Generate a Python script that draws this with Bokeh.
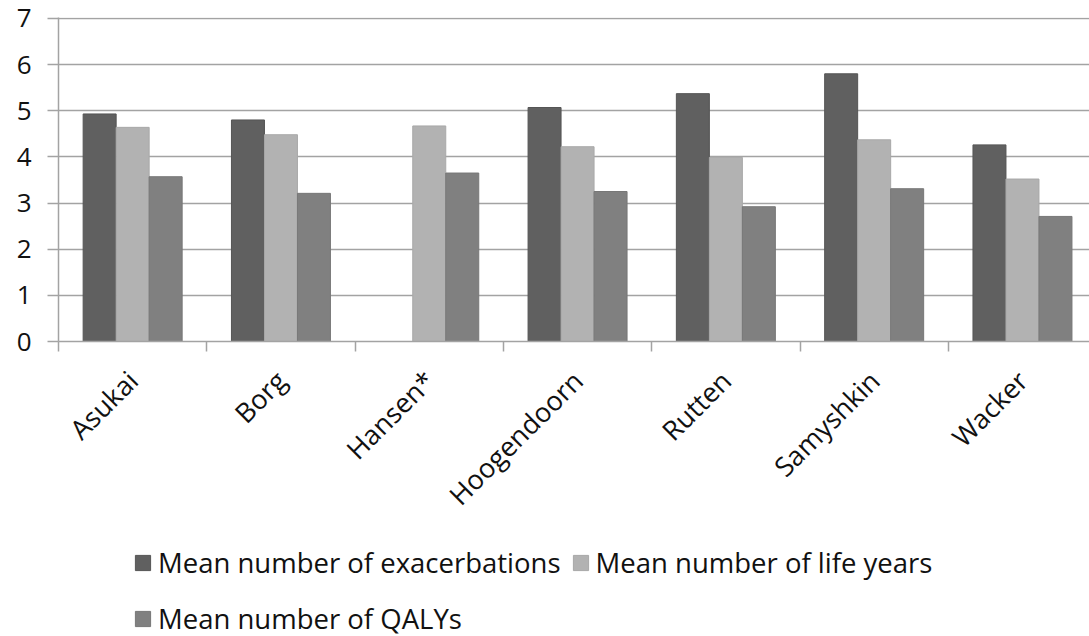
from bokeh.plotting import figure
from bokeh.layouts import column
from bokeh.models import (ColumnDataSource, Range1d, FixedTicker, Legend,
                          LegendItem)
from bokeh.transform import dodge
from bokeh.embed import file_html
from bokeh.resources import INLINE

# Study results per published model
studies = ["Asukai", "Borg", "Hansen*", "Hoogendoorn", "Rutten", "Samyshkin", "Wacker"]
exacerbations = [4.93, 4.80, float("nan"), 5.07, 5.37, 5.80, 4.26]
life_years = [4.64, 4.48, 4.67, 4.22, 3.99, 4.37, 3.52]
qalys = [3.57, 3.21, 3.65, 3.25, 2.92, 3.31, 2.71]
y_ticks = [0, 1, 2, 3, 4, 5, 6, 7]

series_names = ["Mean number of exacerbations", "Mean number of life years",
                "Mean number of QALYs"]
series_colors = ["#606060", "#b2b2b2", "#808080"]
series_lines = ["#555555", "#a8a8a8", "#777777"]

FONT = "Open Sans"
TEXT = "#111111"
GRID = "#a3a3a3"
centers = [i + 0.5 for i in range(len(studies))]
bounds = list(range(len(studies)))
bar_w = 0.2225

# ---- main chart ----
p = figure(frame_width=1031, frame_height=324,
           min_border_left=58, min_border_right=0, min_border_top=17,
           min_border_bottom=180,
           x_range=Range1d(0, 6.952), y_range=Range1d(0, 7.02),
           output_backend="svg", toolbar_location=None)

src = ColumnDataSource(dict(x=centers, exa=exacerbations, life=life_years, qaly=qalys))
for k, (col, fc, lc) in enumerate(zip(["exa", "life", "qaly"], series_colors, series_lines)):
    p.vbar(x=dodge("x", (k - 1) * bar_w), top=col, width=bar_w, source=src,
           fill_color=fc, line_color=lc, line_width=1)

p.outline_line_color = None
p.background_fill_color = "white"
p.border_fill_color = "white"

p.xgrid.visible = False
p.ygrid.ticker = FixedTicker(ticks=y_ticks)
p.ygrid.grid_line_color = GRID
p.ygrid.grid_line_width = 1.5

ya = p.yaxis[0]
ya.ticker = FixedTicker(ticks=y_ticks)
ya.axis_line_color = GRID
ya.axis_line_width = 1.5
ya.major_tick_line_color = GRID
ya.major_tick_line_width = 1.5
ya.major_tick_out = 11
ya.major_tick_in = 0
ya.minor_tick_line_color = None
ya.major_label_standoff = 16
ya.major_label_text_font = FONT
ya.major_label_text_font_size = "26px"
ya.major_label_text_color = TEXT

# labels at category centres, tick marks at category boundaries
xa = p.xaxis[0]
xa.ticker = FixedTicker(ticks=centers, minor_ticks=bounds)
xa.major_label_overrides = {c: s for c, s in zip(centers, studies)}
xa.major_label_orientation = 0.785398
xa.major_tick_line_color = None
xa.major_tick_out = 0
xa.major_tick_in = 0
xa.minor_tick_line_color = GRID
xa.minor_tick_line_width = 1.5
xa.minor_tick_out = 10
xa.minor_tick_in = 0
xa.axis_line_color = GRID
xa.axis_line_width = 1.5
xa.major_label_standoff = 24
xa.major_label_text_font = FONT
xa.major_label_text_font_size = "27px"
xa.major_label_text_color = TEXT

# ---- legend strip ----
lg = figure(width=1089, height=115, min_border=0,
            x_axis_location=None, y_axis_location=None,
            x_range=Range1d(0, 1), y_range=Range1d(0, 1),
            output_backend="svg", toolbar_location=None)
lg.outline_line_color = None
lg.grid.visible = False
key_src = ColumnDataSource(dict(x=[float("nan")], top=[float("nan")]))
swatches = [lg.vbar(x="x", top="top", width=0.1, source=key_src,
                    fill_color=fc, line_color=lc)
            for fc, lc in zip(series_colors, series_lines)]

def make_legend(idx, loc):
    return Legend(items=[LegendItem(label=series_names[i], renderers=[swatches[i]]) for i in idx],
                  location=loc, orientation="horizontal",
                  padding=0, margin=0, spacing=10, label_standoff=6,
                  label_height=36, glyph_width=19, glyph_height=19,
                  border_line_color=None, background_fill_alpha=0,
                  label_text_font=FONT, label_text_font_size="27.5px",
                  label_text_color=TEXT)

lg.add_layout(make_legend([0, 1], (75, 62)), "center")
lg.add_layout(make_legend([2], (75, 6)), "center")

open("out.html", "w").write(file_html(column(p, lg, spacing=0), INLINE))
